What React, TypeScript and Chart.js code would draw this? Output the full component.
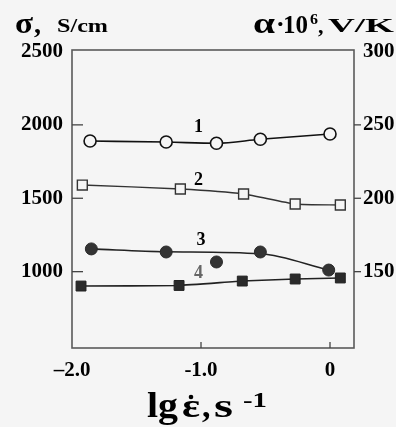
import React, { useEffect, useRef } from 'react';
import { Chart, registerables } from 'chart.js';

Chart.register(...registerables);

// Data (x: lg of strain rate, y: sigma in S/cm on left axis scale)
const curve1X = [-1.86, -1.27, -0.88, -0.54, 0.0];
const curve1Y = [1890, 1883, 1875, 1902, 1938];
const curve2X = [-1.92, -1.16, -0.67, -0.27, 0.08];
const curve2Y = [1590, 1563, 1529, 1461, 1454];
const curve3X = [-1.85, -1.27, -0.88, -0.54, -0.01];
const curve3Y = [1155, 1134, 1066, 1134, 1011];
const curve3FitX = [-1.85, -1.27, -0.54, -0.01];
const curve3FitY = [1155, 1136, 1122, 1011];
const curve4X = [-1.93, -1.17, -0.68, -0.27, 0.08];
const curve4Y = [902, 906, 936, 950, 957];

const xTicks = [-2, -1, 0];
const xTickLabels = ['\u20132.0', '-1.0', '0'];
const leftTicks = [1000, 1500, 2000, 2500];
const rightTicks = [150, 200, 250, 300];

const curveNames = ['1', '2', '3', '4'];
const curveNameX = [-1.02, -1.02, -1.0, -1.02];
const curveNameY = [1985, 1624, 1216, 991];

const SERIF = '"Liberation Serif", "Times New Roman", serif';
const BG = '#f5f5f5';

function pts(xs: number[], ys: number[]) {
  return xs.map((x, i) => ({ x, y: ys[i] }));
}

function drawFit(ctx: CanvasRenderingContext2D, text: string, x: number, y: number, font: string, width?: number) {
  ctx.save();
  ctx.font = font;
  ctx.textAlign = 'left';
  ctx.textBaseline = 'alphabetic';
  const w = ctx.measureText(text).width;
  const sx = width && w > 0 ? width / w : 1;
  ctx.translate(x, y);
  ctx.scale(sx, 1);
  ctx.fillText(text, 0, 0);
  ctx.restore();
}

const decorPlugin = {
  id: 'decor',
  beforeDraw(chart: any) {
    const { ctx, width, height } = chart;
    ctx.save();
    ctx.fillStyle = BG;
    ctx.fillRect(0, 0, width, height);
    ctx.restore();
  },
  afterDatasetsDraw(chart: any) {
    const { ctx, chartArea } = chart;
    const xs = chart.scales.x;
    const yl = chart.scales.y;
    const yr = chart.scales.y2;
    ctx.save();
    // frame
    ctx.strokeStyle = '#5a5a5a';
    ctx.lineWidth = 1.6;
    ctx.strokeRect(chartArea.left, chartArea.top, chartArea.right - chartArea.left, chartArea.bottom - chartArea.top);
    // inside ticks on the left axis
    ctx.lineWidth = 1.3;
    ctx.strokeStyle = '#444';
    [1000, 1500, 2000].forEach((v) => {
      const py = yl.getPixelForValue(v);
      ctx.beginPath();
      ctx.moveTo(chartArea.left, py);
      ctx.lineTo(chartArea.left + 11, py);
      ctx.stroke();
    });
    // outside ticks on the right axis
    [150, 200, 250].forEach((v) => {
      const py = yr.getPixelForValue(v);
      ctx.beginPath();
      ctx.moveTo(chartArea.right, py);
      ctx.lineTo(chartArea.right + 7, py);
      ctx.stroke();
    });
    // inside ticks on bottom axis
    [-1, 0].forEach((v) => {
      const px = xs.getPixelForValue(v);
      ctx.beginPath();
      ctx.moveTo(px, chartArea.bottom);
      ctx.lineTo(px, chartArea.bottom - 6);
      ctx.stroke();
    });
    // curve numbers
    curveNames.forEach((n, i) => {
      ctx.fillStyle = i === 3 ? '#666' : '#000';
      ctx.font = `bold 18px ${SERIF}`;
      ctx.textAlign = 'center';
      ctx.textBaseline = 'middle';
      ctx.fillText(n, xs.getPixelForValue(curveNameX[i]), yl.getPixelForValue(curveNameY[i]));
    });
    ctx.fillStyle = '#000';
    // left axis title
    drawFit(ctx, '\u03c3', 15, 33, `bold 30px ${SERIF}`, 18);
    drawFit(ctx, ',', 34, 33, `bold 28px ${SERIF}`);
    drawFit(ctx, 'S/cm', 57, 32, `bold 19px ${SERIF}`, 51);
    // right axis title
    drawFit(ctx, '\u03b1', 253, 33, `bold 30px ${SERIF}`, 22);
    drawFit(ctx, '\u00b7', 276, 32, `bold 26px ${SERIF}`);
    drawFit(ctx, '10', 283, 33, `bold 25px ${SERIF}`, 25);
    drawFit(ctx, '6', 310, 24, `bold 15px ${SERIF}`, 8);
    drawFit(ctx, ',', 318, 33, `bold 22px ${SERIF}`);
    drawFit(ctx, 'V/K', 328, 32, `bold 19px ${SERIF}`, 66);
    // x axis title
    drawFit(ctx, 'lg', 147, 417, `bold 36px ${SERIF}`, 31);
    drawFit(ctx, '\u03b5', 182, 417, `bold 34px ${SERIF}`, 18);
    ctx.beginPath();
    ctx.arc(191, 397, 2.3, 0, Math.PI * 2);
    ctx.fill();
    drawFit(ctx, ',', 202, 417, `bold 34px ${SERIF}`);
    drawFit(ctx, 's', 214, 417, `bold 34px ${SERIF}`, 19);
    drawFit(ctx, '-1', 243, 407, `bold 20px ${SERIF}`, 24);
    ctx.restore();
  },
};

export default function App() {
  const ref = useRef<HTMLCanvasElement>(null);
  useEffect(() => {
    if (!ref.current) return;
    const tickFont = { family: SERIF, size: 21, weight: 'bold' as const };
    const chart = new Chart(ref.current, {
      type: 'scatter',
      data: {
        datasets: [
          {
            label: '1',
            data: pts(curve1X, curve1Y),
            showLine: true,
            cubicInterpolationMode: 'monotone',
            borderColor: '#111',
            borderWidth: 1.6,
            pointStyle: 'circle',
            pointRadius: 6,
            pointBorderWidth: 1.6,
            pointBorderColor: '#111',
            pointBackgroundColor: BG,
            order: 1,
          },
          {
            label: '2',
            data: pts(curve2X, curve2Y),
            showLine: true,
            tension: 0.2,
            borderColor: '#333',
            borderWidth: 1.4,
            pointStyle: 'rect',
            pointRadius: 7,
            pointBorderWidth: 1.4,
            pointBorderColor: '#333',
            pointBackgroundColor: BG,
            order: 1,
          },
          {
            label: '3 fit',
            data: pts(curve3FitX, curve3FitY),
            showLine: true,
            cubicInterpolationMode: 'monotone',
            borderColor: '#222',
            borderWidth: 1.6,
            pointRadius: 0,
            order: 5,
          },
          {
            label: '3',
            data: pts(curve3X, curve3Y),
            showLine: false,
            pointStyle: 'circle',
            pointRadius: 6,
            pointBorderWidth: 1,
            pointBorderColor: '#2a2a2a',
            pointBackgroundColor: '#333',
            order: 0,
          },
          {
            label: '4',
            data: pts(curve4X, curve4Y),
            showLine: true,
            tension: 0.1,
            borderColor: '#222',
            borderWidth: 1.6,
            pointStyle: 'rect',
            pointRadius: 7,
            pointBorderWidth: 1,
            pointBorderColor: '#222',
            pointBackgroundColor: '#2a2a2a',
            order: 0,
          },
        ],
      },
      options: {
        animation: false,
        responsive: false,
        layout: { padding: { top: 50, left: 0, right: 0, bottom: 0 } },
        plugins: { legend: { display: false }, tooltip: { enabled: false } },
        scales: {
          x: {
            type: 'linear',
            min: -2,
            max: 0.186,
            grid: { display: false, drawTicks: false },
            border: { display: false },
            afterBuildTicks: (s: any) => {
              s.ticks = xTicks.map((v) => ({ value: v }));
            },
            afterFit: (s: any) => {
              s.height = 79;
            },
            ticks: {
              font: tickFont,
              color: '#000',
              padding: 10,
              maxRotation: 0,
              autoSkip: false,
              callback: (v: any) => {
                const i = xTicks.indexOf(Number(v));
                return i >= 0 ? xTickLabels[i] : '';
              },
            },
          },
          y: {
            type: 'linear',
            position: 'left',
            min: 480,
            max: 2510,
            grid: { display: false, drawTicks: false },
            border: { display: false },
            afterBuildTicks: (s: any) => {
              s.ticks = leftTicks.map((v) => ({ value: v }));
            },
            afterFit: (s: any) => {
              s.width = 72;
            },
            ticks: { font: tickFont, color: '#000', padding: 9, autoSkip: false, callback: (v: any) => String(v) },
          },
          y2: {
            type: 'linear',
            position: 'right',
            min: 98,
            max: 301,
            grid: { display: false, drawTicks: false },
            border: { display: false },
            afterBuildTicks: (s: any) => {
              s.ticks = rightTicks.map((v) => ({ value: v }));
            },
            afterFit: (s: any) => {
              s.width = 42;
            },
            ticks: { font: tickFont, color: '#000', padding: 9, autoSkip: false, callback: (v: any) => String(v) },
          },
        },
      },
      plugins: [decorPlugin],
    } as any);
    return () => chart.destroy();
  }, []);
  return (
    <div style={{ position: 'absolute', left: 0, top: 0, width: 396, height: 427, background: BG }}>
      <canvas ref={ref} width={396} height={427} style={{ display: 'block' }} />
    </div>
  );
}
